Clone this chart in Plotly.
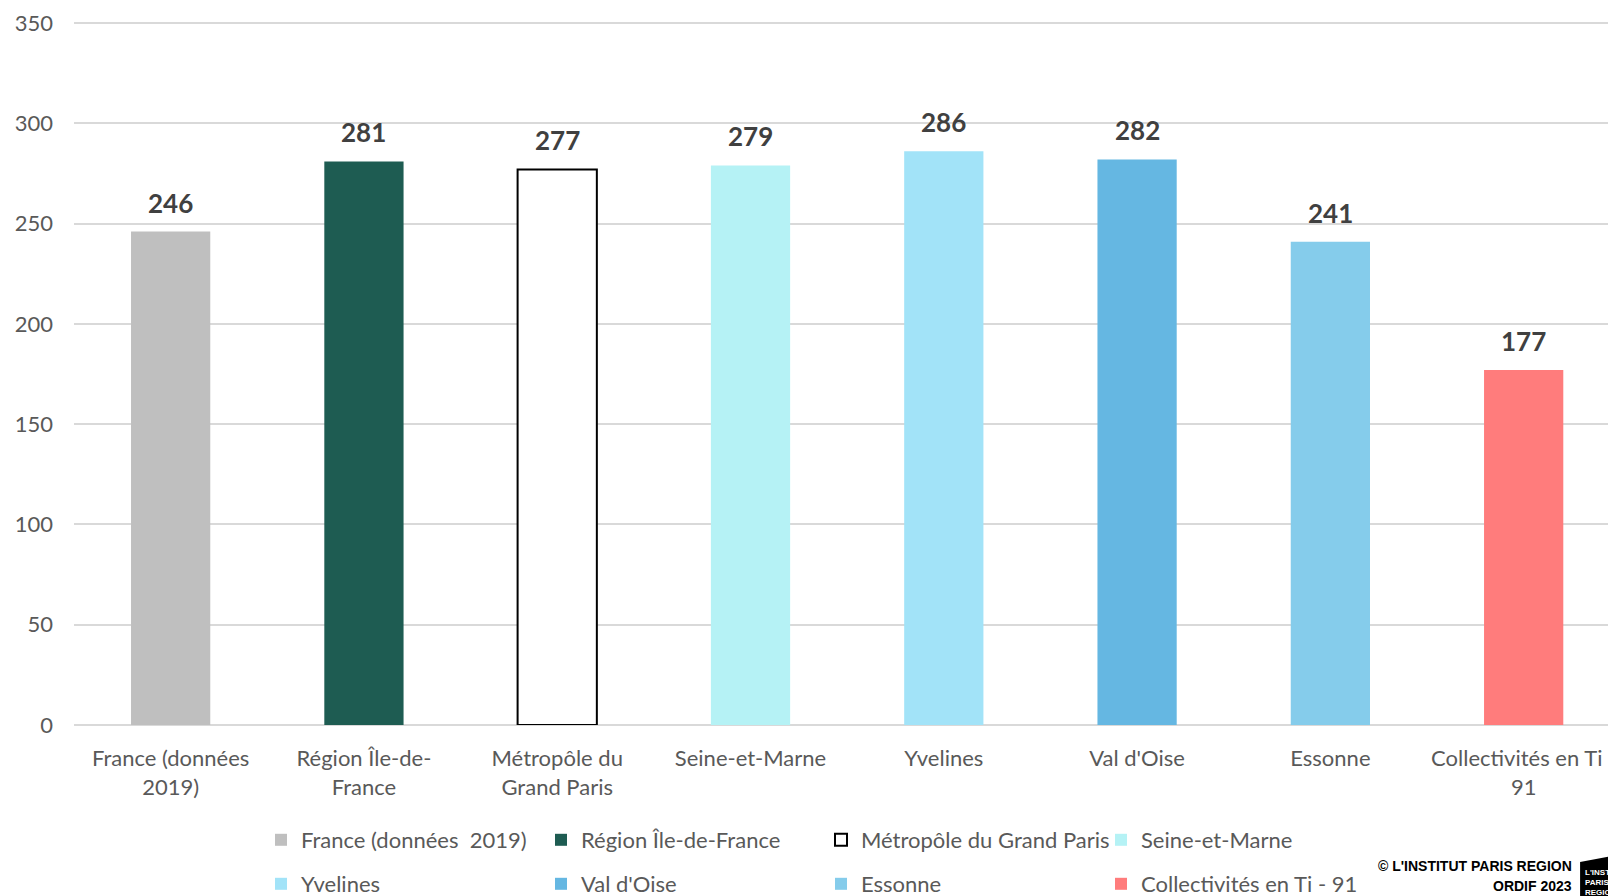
import plotly.graph_objects as go

categories = [
    "France (données<br>2019)",
    "Région Île-de-<br>France",
    "Métropôle du<br>Grand Paris",
    "Seine-et-Marne",
    "Yvelines",
    "Val d'Oise",
    "Essonne",
    "Collectivités en Ti -<br>91",
]
legend_names = [
    "France (données\u00a0 2019)",
    "Région Île-de-France",
    "Métropôle du Grand Paris",
    "Seine-et-Marne",
    "Yvelines",
    "Val d'Oise",
    "Essonne",
    "Collectivités en Ti - 91",
]
values = [246, 281, 277, 279, 286, 282, 241, 177]
colors = ["#BFBFBF", "#1E5C52", "#FFFFFF", "#B5F2F5",
          "#A2E3F8", "#65B7E2", "#85CCEB", "#FF7C7C"]
outlines = ["#BFBFBF", "#1E5C52", "#000000", "#B5F2F5",
            "#A2E3F8", "#65B7E2", "#85CCEB", "#FF7C7C"]

FONT = "Lato, Calibri, sans-serif"
GREY = "#595959"

# the page body has an 8px margin, so the figure is 8px smaller each way
W, H = 1608, 888
ML, MT, PH = 66, 13, 704

fig = go.Figure()

for i, (cat, name, val) in enumerate(zip(categories, legend_names, values)):
    fig.add_trace(
        go.Bar(
            x=[cat],
            y=[val],
            name=name,
            width=0.41,
            marker=dict(
                color=colors[i],
                line=dict(color=outlines[i], width=2 if i == 2 else 0),
            ),
            legend="legend" if i < 4 else "legend2",
            hoverinfo="x+y",
        )
    )
    fig.add_annotation(
        x=cat, y=val, text=f"<b>{val}</b>", showarrow=False,
        yanchor="bottom", yshift=11,
        font=dict(family=FONT, size=26, color="#404040"),
    )

# footer credit and logo (page pixel -> paper coords)
px_x = lambda p: (p - 8 - ML) / (W - ML)
px_y = lambda p: (MT + PH - (p - 8)) / PH
fig.add_annotation(
    xref="paper", yref="paper", x=px_x(1578), y=px_y(866),
    xanchor="right", yanchor="middle", showarrow=False,
    text="<b>© L'INSTITUT PARIS REGION</b>",
    font=dict(family="Liberation Sans, Arial", size=14, color="#000000"),
)
fig.add_annotation(
    xref="paper", yref="paper", x=px_x(1578), y=px_y(886),
    xanchor="right", yanchor="middle", showarrow=False,
    text="<b>ORDIF 2023</b>",
    font=dict(family="Liberation Sans, Arial", size=14, color="#000000"),
)
fig.add_shape(
    type="path", xref="paper", yref="paper",
    path=(f"M {px_x(1584)} {px_y(862)} L {px_x(1616)} {px_y(856)} "
          f"L {px_x(1616)} {px_y(896)} L {px_x(1584)} {px_y(896)} Z"),
    fillcolor="#000000", line=dict(width=0),
)
for txt, yy in [("L'INSTI", 872), ("PARIS", 882), ("REGION", 892)]:
    fig.add_annotation(
        xref="paper", yref="paper", x=px_x(1587), y=px_y(yy),
        xanchor="left", yanchor="middle", showarrow=False,
        text=f"<b>{txt}</b>",
        font=dict(family="Liberation Sans Narrow, Arial", size=8, color="#FFFFFF"),
    )

legend_style = dict(
    orientation="h",
    xref="container", yref="container",
    xanchor="left", yanchor="middle",
    entrywidth=235, entrywidthmode="pixels",
    font=dict(family=FONT, size=22, color=GREY),
    bgcolor="rgba(0,0,0,0)",
    traceorder="normal",
)

fig.update_layout(
    width=W,
    height=H,
    plot_bgcolor="#FFFFFF",
    paper_bgcolor="#FFFFFF",
    barmode="overlay",
    margin=dict(l=ML, r=0, t=MT, b=H - MT - PH),
    font=dict(family=FONT, color=GREY),
    legend=dict(x=(261 - 8) / W, y=(H - 832) / H, **legend_style),
    legend2=dict(x=(261 - 8) / W, y=(H - 876) / H, **legend_style),
    xaxis=dict(
        type="category",
        range=[-0.5, 7.457],
        showgrid=False,
        showline=False,
        tickfont=dict(family=FONT, size=22, color=GREY),
        ticklabelstandoff=18,
    ),
    yaxis=dict(
        range=[0, 351],
        tickvals=[0, 50, 100, 150, 200, 250, 300, 350],
        showgrid=True,
        gridcolor="#D9D9D9",
        gridwidth=1.5,
        zeroline=True,
        zerolinecolor="#D9D9D9",
        zerolinewidth=1.5,
        tickfont=dict(family=FONT, size=22, color=GREY),
        ticklabelstandoff=20,
    ),
)

fig.write_html("out.html")
